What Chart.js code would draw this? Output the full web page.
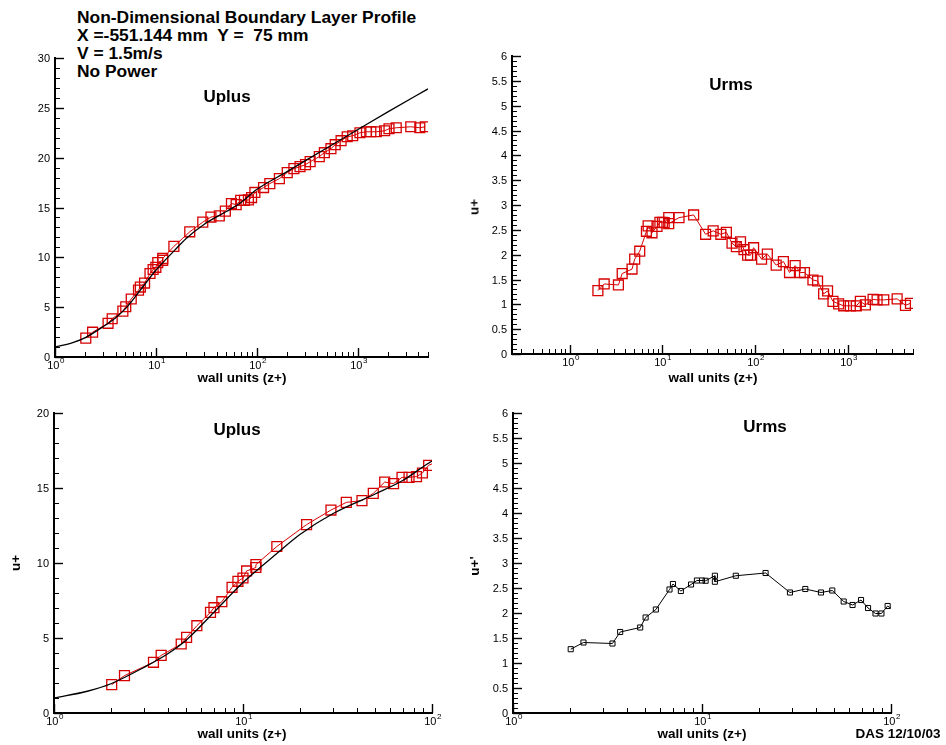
<!DOCTYPE html>
<html lang="en">
<head>
    <meta charset="UTF-8">
    <title>Non-Dimensional Boundary Layer Profile</title>
    <style>
        body {
            margin: 0;
            background: #ffffff;
            font-family: "Liberation Sans", Arial, sans-serif;
            color: #000;
        }
        .page {
            position: relative;
            width: 946px;
            height: 745px;
            overflow: hidden;
        }
        canvas {
            position: absolute;
        }
        .txt {
            position: absolute;
            font-weight: bold;
            white-space: nowrap;
            transform: translate(-50%, -50%);
        }
        .header {
            position: absolute;
            left: 77px;
            top: 8px;
            font-weight: bold;
            font-size: 17.4px;
            line-height: 18px;
        }
        .ptitle { font-size: 17px; }
        .xtitle { font-size: 13.5px; }
        .ytitle { font-size: 13.5px; transform: translate(-50%, -50%) rotate(-90deg); }
    </style>
</head>
<body>
<div class="page">
    <div class="header">
        Non-Dimensional Boundary Layer Profile<br>
        X =-551.144 mm&nbsp; Y = &nbsp;75 mm<br>
        V = 1.5m/s<br>
        No Power
    </div>

    <canvas id="c1" width="460" height="345" style="left:0px;top:40px"></canvas>
    <canvas id="c2" width="476" height="345" style="left:470px;top:40px"></canvas>
    <canvas id="c3" width="460" height="350" style="left:0px;top:395px"></canvas>
    <canvas id="c4" width="476" height="350" style="left:470px;top:395px"></canvas>

    <div class="txt ptitle" style="left:227px;top:97px">Uplus</div>
    <div class="txt ptitle" style="left:731px;top:85px">Urms</div>
    <div class="txt ptitle" style="left:237px;top:430px">Uplus</div>
    <div class="txt ptitle" style="left:765px;top:427px">Urms</div>

    <div class="txt xtitle" style="left:242px;top:377px">wall units (z+)</div>
    <div class="txt xtitle" style="left:713px;top:377px">wall units (z+)</div>
    <div class="txt xtitle" style="left:242px;top:733px">wall units (z+)</div>
    <div class="txt xtitle" style="left:702px;top:733px">wall units (z+)</div>

    <div class="txt ytitle" style="left:474px;top:207px">u+</div>
    <div class="txt ytitle" style="left:15px;top:563px">u+</div>
    <div class="txt ytitle" style="left:474px;top:566px">u+'</div>

    <div class="txt xtitle" style="left:898px;top:733px">DAS 12/10/03</div>
</div>

<script src="https://cdn.jsdelivr.net/npm/chart.js"></script>
<script>
    // measured profile (wall units)
    const zPlus = [2.02, 2.36, 3.36, 3.69, 4.71, 5.03, 5.70, 6.73, 7.02, 7.73,
        8.75, 9.4, 10.0, 10.45, 11.7, 11.7, 15.1, 21.7, 29.2, 35.2,
        42.6, 48.9, 56.2, 62.6, 69.4, 75.6, 82.8, 89.0, 96.0, 117,
        135, 168, 201, 234, 269, 305, 339, 418, 469, 545,
        601, 687, 790, 896, 1057, 1227, 1355, 1535, 1857, 2052,
        2421, 3374, 4146, 4695];
    const uPlus = [1.89, 2.49, 3.38, 3.84, 4.6, 5.04, 5.82, 6.71, 7.02, 7.42,
        8.38, 8.78, 9.0, 9.47, 9.7, 9.89, 11.1, 12.56, 13.53, 14.04,
        14.16, 14.64, 15.4, 15.29, 15.71, 15.71, 15.76, 16.0, 16.51, 17.0,
        17.4, 17.9, 18.5, 18.9, 19.1, 19.3, 19.6, 20.1, 20.5, 20.9,
        21.3, 21.7, 22.1, 22.2, 22.5, 22.6, 22.6, 22.6, 22.7, 22.9,
        23.0, 23.1, 23.0, 23.1];
    const uRms = [1.276, 1.41, 1.39, 1.62, 1.71, 1.91, 2.07, 2.47, 2.58, 2.44,
        2.57, 2.65, 2.65, 2.645, 2.745, 2.625, 2.745, 2.80, 2.41, 2.48,
        2.41, 2.45, 2.23, 2.16, 2.26, 2.10, 1.99, 1.99, 2.14, 1.91,
        2.01, 1.79, 1.86, 1.64, 1.78, 1.64, 1.64, 1.49, 1.47, 1.21,
        1.27, 1.06, 1.01, 0.97, 0.97, 0.97, 1.06, 0.99, 1.10, 1.09,
        1.09, 1.11, 0.98, 1.02];

    // reference law of the wall curve (black line)
    const lawZ = [1, 1.5, 2, 3, 4, 5, 7, 10, 15, 20, 30, 50, 70, 100, 200, 500, 1000, 2000, 5000];
    const lawU = [1.0, 1.45, 1.95, 3.05, 3.95, 4.85, 6.7, 8.7, 10.6, 11.9, 13.3, 14.6, 15.5, 16.8, 18.6, 21.0, 22.8, 24.6, 26.9];

    // tick labels
    const uplusTicksTop = [0, 5, 10, 15, 20, 25, 30];
    const uplusTicksBottom = [0, 5, 10, 15, 20];
    const urmsTicks = [0, 0.5, 1, 1.5, 2, 2.5, 3, 3.5, 4, 4.5, 5, 5.5, 6];
    const decadesTop = [0, 1, 2, 3];
    const decadesBottom = [0, 1, 2];

    const RED = 'rgb(214,0,0)';
    const toXY = (xs, ys) => xs.map((v, i) => ({ x: v, y: ys[i] }));

    // inward ticks + labels, drawn from the chart scales
    const axisDeco = {
        id: 'axisDeco',
        afterDraw(chart, args, o) {
            const ctx = chart.ctx;
            const xs = chart.scales.x, ys = chart.scales.y;
            const left = chart.chartArea.left, bottom = chart.chartArea.bottom;
            ctx.save();
            ctx.strokeStyle = '#000';
            ctx.fillStyle = '#000';

            // y ticks
            const yMin = ys.min, yMax = ys.max;
            const nMinor = Math.round((yMax - yMin) / o.yMinor);
            ctx.lineWidth = 1;
            for (let i = 0; i <= nMinor; i++) {
                const py = Math.round(ys.getPixelForValue(yMin + i * o.yMinor)) + 0.5;
                ctx.beginPath(); ctx.moveTo(left, py); ctx.lineTo(left + 5, py); ctx.stroke();
            }
            ctx.lineWidth = 1.4;
            ctx.font = '11px "Liberation Sans", Arial, sans-serif';
            ctx.textAlign = 'right';
            ctx.textBaseline = 'middle';
            o.yTicks.forEach(v => {
                const py = Math.round(ys.getPixelForValue(v)) + 0.5;
                ctx.beginPath(); ctx.moveTo(left, py); ctx.lineTo(left + 9, py); ctx.stroke();
                ctx.fillText(String(v), left - 5, py);
            });

            // x ticks (log)
            ctx.lineWidth = 1;
            for (let d = Math.floor(Math.log10(xs.min)); d <= Math.ceil(Math.log10(xs.max)); d++) {
                for (let m = 2; m <= 9; m++) {
                    const v = m * Math.pow(10, d);
                    if (v < xs.min || v > xs.max) continue;
                    const px = Math.round(xs.getPixelForValue(v)) + 0.5;
                    ctx.beginPath(); ctx.moveTo(px, bottom); ctx.lineTo(px, bottom - 5); ctx.stroke();
                }
            }
            ctx.lineWidth = 1.4;
            o.xDecades.forEach(e => {
                const px = Math.round(xs.getPixelForValue(Math.pow(10, e))) + 0.5;
                ctx.beginPath(); ctx.moveTo(px, bottom); ctx.lineTo(px, bottom - 9); ctx.stroke();
                ctx.font = '11px "Liberation Sans", Arial, sans-serif';
                const wb = ctx.measureText('10').width;
                ctx.font = '8px "Liberation Sans", Arial, sans-serif';
                const we = ctx.measureText(String(e)).width;
                const x0 = px - (wb + we) / 2;
                ctx.textAlign = 'left';
                ctx.font = '11px "Liberation Sans", Arial, sans-serif';
                ctx.fillText('10', x0, bottom + 9);
                ctx.font = '8px "Liberation Sans", Arial, sans-serif';
                ctx.fillText(String(e), x0 + wb + 0.5, bottom + 4);
            });
            ctx.restore();
        }
    };

    function makeChart(id, datasets, xr, yr, pad, deco) {
        return new Chart(document.getElementById(id), {
            type: 'line',
            data: { datasets: datasets },
            options: {
                responsive: false,
                animation: false,
                devicePixelRatio: 1,
                layout: { padding: pad },
                plugins: {
                    legend: { display: false },
                    tooltip: { enabled: false },
                    axisDeco: deco
                },
                scales: {
                    x: {
                        type: 'logarithmic', min: xr[0], max: xr[1],
                        grid: { display: false, drawTicks: false },
                        ticks: { display: false },
                        border: { display: true, color: '#000', width: 2 }
                    },
                    y: {
                        type: 'linear', min: yr[0], max: yr[1],
                        grid: { display: false, drawTicks: false },
                        ticks: { display: false },
                        border: { display: true, color: '#000', width: 2 }
                    }
                }
            },
            plugins: [axisDeco]
        });
    }

    function lawSet() {
        return {
            data: toXY(lawZ, lawU),
            borderColor: '#000', borderWidth: 1.3,
            pointRadius: 0, cubicInterpolationMode: 'monotone'
        };
    }
    function redSet(ys) {
        return {
            data: toXY(zPlus, ys),
            borderColor: RED, borderWidth: 1,
            pointStyle: 'rect', pointRadius: 7,
            pointBorderColor: RED, pointBorderWidth: 1.3,
            pointBackgroundColor: 'rgba(0,0,0,0)'
        };
    }

    makeChart('c1', [lawSet(), redSet(uPlus)], [1, 5000], [0, 30],
        { left: 55, top: 18, right: 32, bottom: 28 },
        { yTicks: uplusTicksTop, yMinor: 1, xDecades: decadesTop });

    makeChart('c2', [redSet(uRms)], [0.24, 5000], [0, 6],
        { left: 42, top: 16, right: 33, bottom: 31 },
        { yTicks: urmsTicks, yMinor: 0.1, xDecades: decadesTop });

    makeChart('c3', [lawSet(), redSet(uPlus)], [1, 100], [0, 20],
        { left: 54, top: 18, right: 28, bottom: 32 },
        { yTicks: uplusTicksBottom, yMinor: 1, xDecades: decadesBottom });

    makeChart('c4', [{
            data: toXY(zPlus, uRms),
            borderColor: '#000', borderWidth: 1,
            pointStyle: 'rect', pointRadius: 3.6,
            pointBorderColor: '#000', pointBorderWidth: 1,
            pointBackgroundColor: 'rgba(0,0,0,0)'
        }], [1, 100], [0, 6],
        { left: 43, top: 18, right: 55, bottom: 32 },
        { yTicks: urmsTicks, yMinor: 0.1, xDecades: decadesBottom });
</script>
</body>
</html>
